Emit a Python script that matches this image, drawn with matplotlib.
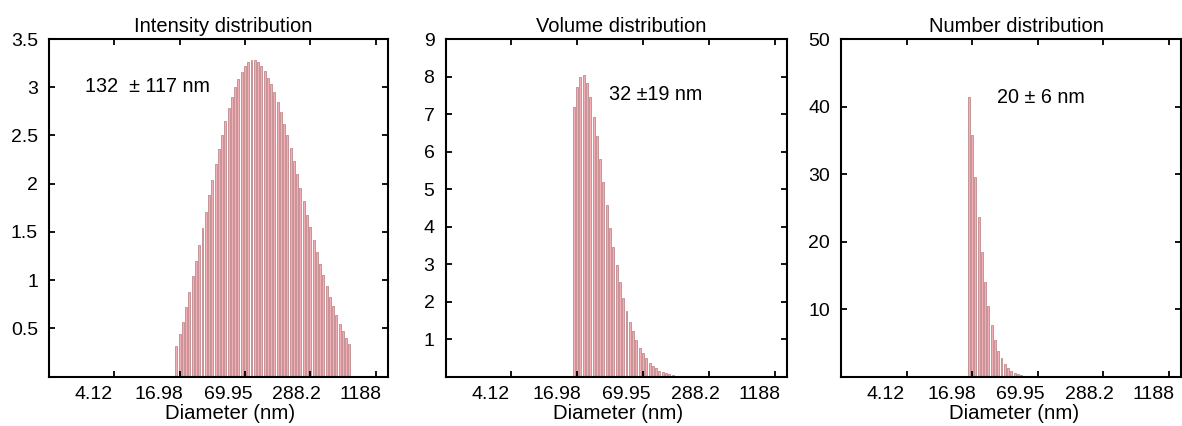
import numpy as np
import matplotlib
matplotlib.use("Agg")
import matplotlib.pyplot as plt
from matplotlib.transforms import ScaledTranslation

plt.rcParams['font.family'] = ['Liberation Sans', 'DejaVu Sans']

# Instrument size bins (nm): log-spaced grid, 20 bins per factor of 4.12
bin_ratio = 4.12 ** (1 / 20)
n_bins = 105
first_index = 39  # all three distributions start at this bin

tick_values = [4.12, 16.98, 69.95, 288.2, 1188]
tick_labels = ["4.12", "16.98", "69.95", "288.2", "1188"]

titles = ["Intensity distribution", "Volume distribution", "Number distribution"]
annotations = ["132  \u00b1 117 nm", "32 \u00b119 nm", "20 \u00b1 6 nm"]

intensity = [0.32, 0.44, 0.57, 0.72, 0.88, 1.04, 1.20, 1.37, 1.54, 1.71,
             1.88, 2.04, 2.20, 2.36, 2.51, 2.65, 2.78, 2.90, 3.00, 3.09,
             3.16, 3.22, 3.26, 3.28, 3.28, 3.26, 3.22, 3.17, 3.10, 3.03,
             2.95, 2.85, 2.74, 2.62, 2.50, 2.37, 2.24, 2.10, 1.96, 1.82,
             1.68, 1.55, 1.42, 1.29, 1.17, 1.05, 0.94, 0.83, 0.73, 0.64,
             0.55, 0.47, 0.40, 0.34]
volume = [7.18, 7.73, 8.00, 8.04, 7.82, 7.46, 6.93, 6.42, 5.80, 5.19,
          4.57, 3.96, 3.46, 2.97, 2.53, 2.10, 1.76, 1.47, 1.22, 0.98,
          0.77, 0.62, 0.49, 0.37, 0.29, 0.22, 0.16, 0.12, 0.09, 0.07,
          0.05, 0.03, 0.02]
number = [41.4, 35.8, 29.5, 23.6, 18.4, 14.0, 10.5, 7.6, 5.5, 3.85,
          2.7, 1.9, 1.3, 0.85, 0.55, 0.35, 0.2, 0.1]

series = [intensity, volume, number]
y_limits = [3.5, 9, 50]
y_ticks = [[0.5, 1, 1.5, 2, 2.5, 3, 3.5],
           [1, 2, 3, 4, 5, 6, 7, 8, 9],
           [10, 20, 30, 40, 50]]
y_ticklabels = [["0.5", "1", "1.5", "2", "2.5", "3", "3.5"],
                ["1", "2", "3", "4", "5", "6", "7", "8", "9"],
                ["10", "20", "30", "40", "50"]]
annot_pos = [(0.106, 0.858), (0.478, 0.837), (0.46, 0.828)]
xlabel_x = [0.535, 0.505, 0.51]
# horizontal shift (px) of x tick labels relative to their ticks, as in the source
label_shift_px = [-21, -20.5, -17, -13.5, -15]

W, H = 1182, 426
fig = plt.figure(figsize=(W / 100, H / 100), dpi=100)
ax_boxes = [(49, 388), (445.6, 787), (841, 1181)]
top_px, bot_px = 39, 376.7

diam_all = bin_ratio ** np.arange(n_bins)
bar_frac = 0.6
for k, (x0, x1) in enumerate(ax_boxes):
    ax = fig.add_axes([x0 / W, 1 - bot_px / H, (x1 - x0) / W, (bot_px - top_px) / H])
    vals = np.array(series[k])
    d = diam_all[first_index:first_index + len(vals)]
    left = d * bin_ratio ** (-bar_frac / 2)
    width = d * (bin_ratio ** (bar_frac / 2) - bin_ratio ** (-bar_frac / 2))
    ax.bar(left, vals, width=width, align='edge', color='#f5aeb6',
           edgecolor='#b47a7e', linewidth=0.5)
    ax.set_xscale('log')
    ax.set_xlim(1, bin_ratio ** 103.8)
    ax.set_ylim(0, y_limits[k])
    ax.set_xticks(tick_values)
    ax.set_xticklabels(tick_labels)
    ax.xaxis.set_minor_locator(matplotlib.ticker.NullLocator())
    ax.set_yticks(y_ticks[k])
    ax.set_yticklabels(y_ticklabels[k])
    ax.tick_params(direction='in', top=True, right=True, length=4, width=1.3,
                   labelsize=14, colors='black')
    ax.tick_params(axis='x', pad=7)
    ax.tick_params(axis='y', pad=8)
    for lab, dx in zip(ax.get_xticklabels(), label_shift_px):
        lab.set_transform(lab.get_transform() + ScaledTranslation(dx / 100, 0, fig.dpi_scale_trans))
    for s in ax.spines.values():
        s.set_linewidth(1.5)
    ax.set_title(titles[k], fontsize=14.5, pad=5, x=0.515)
    ax.set_xlabel("Diameter (nm)", fontsize=14.7, labelpad=0.5, x=xlabel_x[k])
    ax.text(annot_pos[k][0], annot_pos[k][1], annotations[k], transform=ax.transAxes,
            fontsize=14.2, va='center', ha='left')

fig.savefig("out.png", dpi=100)
